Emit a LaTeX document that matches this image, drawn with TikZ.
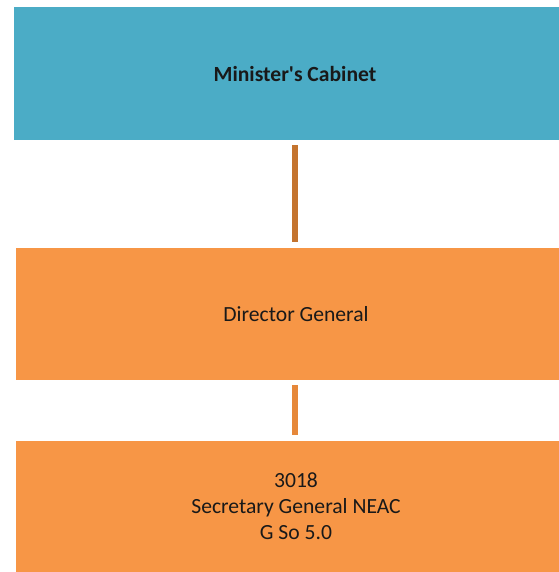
\documentclass[tikz,border=0pt]{standalone}
\usepackage{fontspec}
\newfontfamily\calfont{Carlito}
\definecolor{teal1}{HTML}{4BACC6}
\definecolor{orng}{HTML}{F79646}
\definecolor{conA}{HTML}{C4742F}
\definecolor{conB}{HTML}{E6883A}
\begin{document}
\begin{tikzpicture}[x=1bp,y=-1bp,
  box/.style={rectangle, inner sep=0pt, minimum width=562bp, anchor=center, align=center,
    font=\calfont\fontsize{21.7}{26}\selectfont, text=black!90},
  link/.style={line width=5.5bp}]
\useasboundingbox (0,0) rectangle (559,572);
\node[box, fill=teal1, minimum height=132.5bp, font=\calfont\bfseries\fontsize{21.7}{26}\selectfont] (cab) at (295,73.75) {Minister's Cabinet};
\node[box, fill=orng, minimum height=132bp, xshift=1bp, minimum width=560bp] (dg) at (295,314) {Director General};
\node[box, fill=orng, minimum height=131bp, xshift=1bp, minimum width=560bp] (sg) at (295,506.5) {3018\\Secretary General NEAC\\G So 5.0};
\draw[link, conA, shorten <=5bp, shorten >=6bp] (cab.south -| 295,0) -- (dg.north -| 295,0);
\draw[link, conB, shorten <=5bp, shorten >=6bp] (dg.south -| 295,0) -- (sg.north -| 295,0);
\end{tikzpicture}
\end{document}
